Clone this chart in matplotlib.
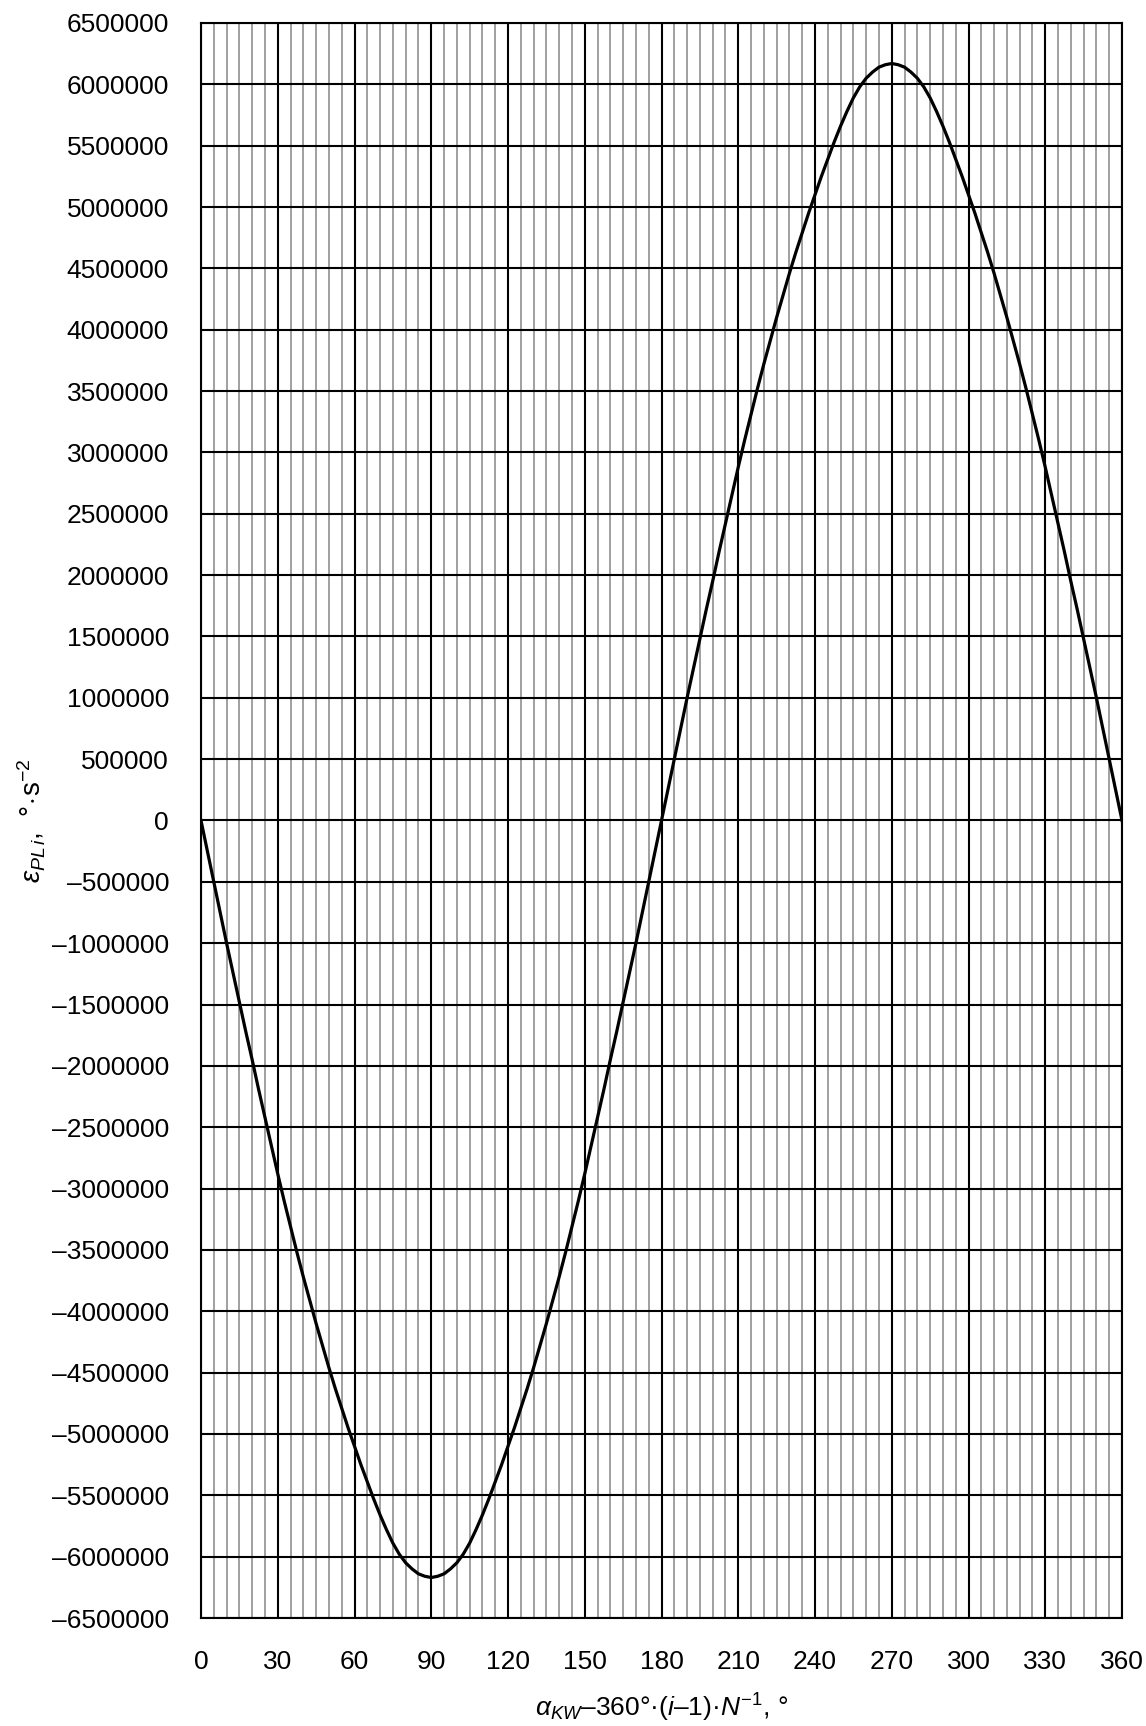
import matplotlib
matplotlib.use("Agg")
import matplotlib.pyplot as plt
from matplotlib.ticker import MultipleLocator, FuncFormatter

# Crank angle samples, degrees (every 2.5 deg over one revolution)
angle_deg = [i * 2.5 for i in range(145)]

# Angular acceleration, deg/s^2
accel = [
    # 0 .. 90
    0, -250000, -500000, -750000, -1000000, -1240000, -1480000, -1720000, -1950000,
    -2190000, -2420000, -2650000, -2880000, -3100000, -3310000, -3520000, -3720000,
    -3910000, -4100000, -4280000, -4460000, -4630000, -4790000, -4950000, -5100000,
    -5250000, -5390000, -5530000, -5660000, -5780000, -5890000, -5980000, -6050000,
    -6100000, -6140000, -6160000, -6170000,
    # 92.5 .. 180
    -6160000, -6140000, -6100000, -6050000, -5980000, -5890000, -5780000, -5660000,
    -5530000, -5390000, -5250000, -5100000, -4950000, -4790000, -4630000, -4460000,
    -4280000, -4100000, -3910000, -3720000, -3520000, -3310000, -3100000, -2880000,
    -2650000, -2420000, -2190000, -1950000, -1720000, -1480000, -1240000, -1000000,
    -750000, -500000, -250000, 0,
    # 182.5 .. 270
    250000, 500000, 750000, 1000000, 1240000, 1480000, 1720000, 1950000,
    2190000, 2420000, 2650000, 2880000, 3100000, 3310000, 3520000, 3720000,
    3910000, 4100000, 4280000, 4460000, 4630000, 4790000, 4950000, 5100000,
    5250000, 5390000, 5530000, 5660000, 5780000, 5890000, 5980000, 6050000,
    6100000, 6140000, 6160000, 6170000,
    # 272.5 .. 360
    6160000, 6140000, 6100000, 6050000, 5980000, 5890000, 5780000, 5660000,
    5530000, 5390000, 5250000, 5100000, 4950000, 4790000, 4630000, 4460000,
    4280000, 4100000, 3910000, 3720000, 3520000, 3310000, 3100000, 2880000,
    2650000, 2420000, 2190000, 1950000, 1720000, 1480000, 1240000, 1000000,
    750000, 500000, 250000, 0,
]

x_ticks = [0, 30, 60, 90, 120, 150, 180, 210, 240, 270, 300, 330, 360]
y_min, y_max, y_step = -6500000, 6500000, 500000

plt.rcParams['font.family'] = ['Liberation Sans', 'DejaVu Sans']
plt.rcParams['mathtext.fontset'] = 'custom'
plt.rcParams['mathtext.rm'] = 'Liberation Sans'
plt.rcParams['mathtext.it'] = 'Liberation Sans:italic'
plt.rcParams['mathtext.bf'] = 'Liberation Sans:bold'

W, H = 1146, 1726
fig = plt.figure(figsize=(W / 100, H / 100), dpi=100)
left, right, top, bottom = 201, 1122, 23, 1618
ax = fig.add_axes([left / W, 1 - bottom / H, (right - left) / W, (bottom - top) / H])

ax.set_xlim(0, 360)
ax.set_ylim(y_min, y_max)
ax.set_xticks(x_ticks)
ax.xaxis.set_minor_locator(MultipleLocator(5))
ax.yaxis.set_major_locator(MultipleLocator(y_step))
ax.yaxis.set_major_formatter(FuncFormatter(lambda v, p: f"{int(round(v))}".replace("-", "\u2013")))

ax.grid(which='minor', axis='x', color='#a0a0a0', linewidth=1.4)
ax.grid(which='major', axis='both', color='black', linewidth=1.5)
ax.set_axisbelow(True)

ax.plot(angle_deg, accel, color='black', linewidth=2.3, zorder=3,
        solid_joinstyle='round')

for s in ax.spines.values():
    s.set_linewidth(1.5)
    s.set_color('black')

ax.tick_params(axis='both', which='both', length=0, labelsize=19)
ax.tick_params(axis='y', pad=23)
ax.tick_params(axis='x', pad=23)

ax.set_ylabel(r'$\varepsilon_{PL\,i}$,  $\degree\!\cdot\!$s$^{-2}$', fontsize=20)
ax.yaxis.set_label_coords(-0.166, 0.5)
ax.set_xlabel(r'$\alpha_{KW}$–360°·($i$–1)·$N^{-1}$, °', fontsize=19)
ax.xaxis.set_label_coords(0.5, -0.046)

fig.savefig('out.png', dpi=100)
